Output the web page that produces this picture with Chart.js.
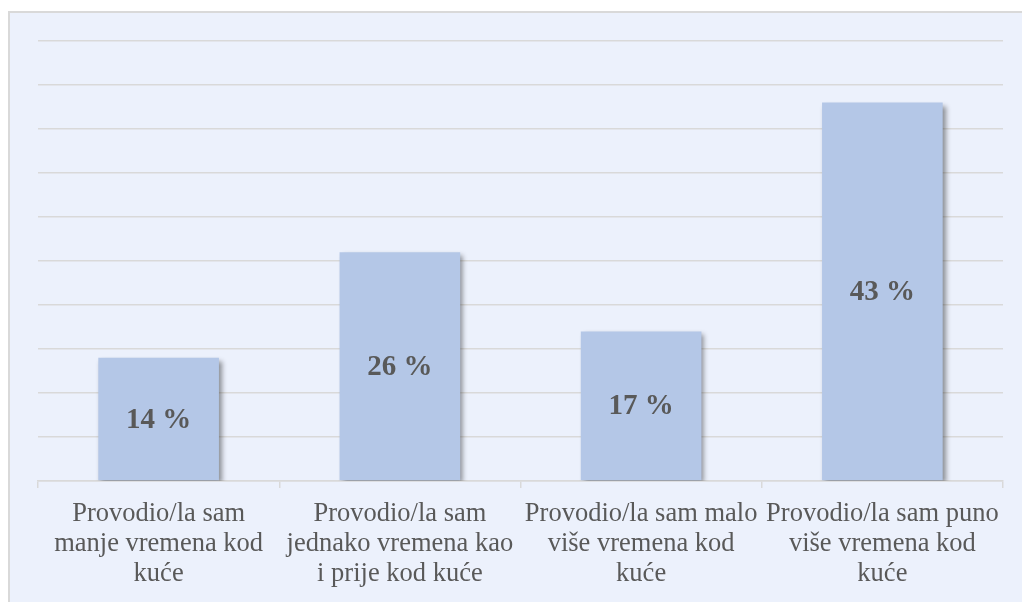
<!DOCTYPE html>
<html>
<head>
<meta charset="utf-8">
<script src="https://cdn.jsdelivr.net/npm/chart.js@4/dist/chart.umd.min.js"></script>
<style>
html,body{margin:0;padding:0;background:#fff;}
#wrap{width:1022px;height:602px;position:relative;}
</style>
</head>
<body>
<div id="wrap"><canvas id="c" width="1022" height="602"></canvas></div>
<script>
const categories = [
  ["Provodio/la sam", "manje vremena kod", "kuće"],
  ["Provodio/la sam", "jednako vremena kao", "i prije kod kuće"],
  ["Provodio/la sam malo", "više vremena kod", "kuće"],
  ["Provodio/la sam puno", "više vremena kod", "kuće"]
];
const values = [14, 26, 17, 43];
const valueLabels = ["14 %", "26 %", "17 %", "43 %"];

const SERIF = "'Liberation Serif', 'DejaVu Serif', 'Times New Roman', Times, serif";

const bgPlugin = {
  id: 'bg',
  beforeDraw(chart) {
    const ctx = chart.ctx;
    ctx.save();
    ctx.fillStyle = '#ffffff';
    ctx.fillRect(0, 0, chart.width, chart.height);
    ctx.fillStyle = '#ECF1FC';
    ctx.fillRect(8, 11, chart.width - 8, chart.height - 11);
    ctx.strokeStyle = '#d9d9d9';
    ctx.lineWidth = 2;
    ctx.beginPath();
    ctx.moveTo(9, chart.height);
    ctx.lineTo(9, 12);
    ctx.lineTo(chart.width, 12);
    ctx.stroke();
    ctx.restore();
  }
};

const shadowPlugin = {
  id: 'shadow',
  beforeDatasetsDraw(chart) {
    const ctx = chart.ctx;
    ctx.save();
    ctx.shadowColor = 'rgba(0,0,0,0.42)';
    ctx.shadowBlur = 5;
    ctx.shadowOffsetX = 3;
    ctx.shadowOffsetY = 3;
  },
  afterDatasetsDraw(chart) {
    const ctx = chart.ctx;
    ctx.restore();
    const meta = chart.getDatasetMeta(0);
    ctx.save();
    ctx.font = 'bold 29px ' + SERIF;
    ctx.fillStyle = '#595959';
    ctx.textAlign = 'center';
    ctx.textBaseline = 'middle';
    meta.data.forEach((bar, i) => {
      const cy = (bar.y + bar.base) / 2;
      ctx.fillText(valueLabels[i], bar.x, cy + 1);
    });
    ctx.restore();
  }
};

new Chart(document.getElementById('c'), {
  type: 'bar',
  data: {
    labels: categories,
    datasets: [{
      data: values,
      backgroundColor: '#B4C7E7',
      borderWidth: 0,
      categoryPercentage: 1.0,
      barPercentage: 0.5
    }]
  },
  options: {
    responsive: false,
    animation: false,
    devicePixelRatio: 1,
    layout: { padding: { left: 38, right: 19, top: 41, bottom: 0 } },
    plugins: { legend: { display: false }, tooltip: { enabled: false } },
    scales: {
      x: {
        afterFit(s) { s.height = 121; },
        grid: { display: true, drawOnChartArea: false, offset: true, tickLength: 7, color: '#d9d9d9', lineWidth: 1.5 },
        border: { display: true, color: '#d9d9d9', width: 1.5 },
        ticks: {
          color: '#595959',
          font: { family: SERIF, size: 26.5, lineHeight: '30px' },
          padding: 11,
          maxRotation: 0,
          autoSkip: false
        }
      },
      y: {
        display: true,
        min: 0, max: 50,
        afterFit(s) { s.width = 0; },
        ticks: { display: false, stepSize: 5 },
        grid: { color: '#d9d9d9', lineWidth: 1.5, drawTicks: false },
        border: { display: false }
      }
    }
  },
  plugins: [bgPlugin, shadowPlugin]
});
</script>
</body>
</html>
